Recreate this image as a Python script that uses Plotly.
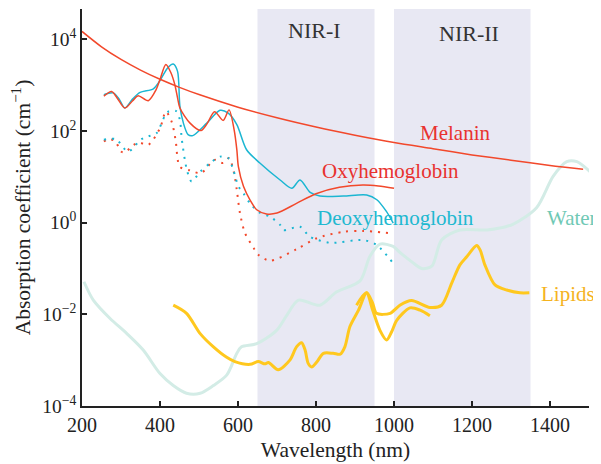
import plotly.graph_objects as go

# ---- data ----
mel_wl = [200, 250, 300, 350, 400, 450, 500, 600, 700, 800, 900, 1000, 1100, 1200, 1300, 1400, 1485]
mel_mu = [14800, 6840, 3630, 2130, 1340, 893, 621, 330, 194, 122, 81, 56, 41, 30, 23, 17.6, 14.6]

oxy_wl = [256, 276, 290, 310, 330, 344, 370, 390, 400, 415, 428, 438, 445, 451, 477, 505, 520, 540,
          562, 577, 590, 597, 601, 614, 631, 648, 673, 700, 750, 800, 860, 920, 960, 1000]
oxy_mu = [575, 724, 525, 316, 457, 589, 457, 794, 1318, 2818, 1862, 1023, 525, 316, 148, 102, 141, 263,
          170, 288, 107, 39, 16.6, 6.2, 3.1, 1.91, 1.55, 1.62, 2.63, 4.27, 5.89, 6.61, 6.31, 5.62]

deoxy_wl = [256, 280, 295, 310, 330, 349, 383, 400, 420, 434, 445, 451, 460, 472, 484, 520, 554, 575,
            597, 622, 656, 708, 738, 759, 785, 810, 870, 930, 956, 980, 998]
deoxy_mu = [617, 676, 501, 316, 501, 692, 832, 1259, 2399, 2884, 1995, 347, 148, 83, 79, 148, 282, 245,
            138, 38.9, 20, 8.5, 5.6, 8.5, 4.57, 3.8, 3.8, 4.0, 3.16, 1.78, 0.98]

oxy_d_wl = [256, 270, 285, 300, 310, 330, 345, 370, 400, 415, 430, 440, 451, 477, 505, 540, 562, 577,
            590, 597, 605, 618, 640, 652, 682, 750, 802, 870, 920, 990]
oxy_d_mu = [58.9, 66, 60, 35.5, 33.9, 47.9, 56, 50, 115, 263, 158, 63, 16.6, 13.8, 12, 23.4, 20, 25.7,
            12, 5.1, 1.62, 0.59, 0.28, 0.2, 0.148, 0.263, 0.457, 0.63, 0.66, 0.59]

deoxy_d_wl = [256, 287, 318, 352, 370, 391, 412, 423, 442, 451, 456, 469, 481, 503, 529, 554, 575, 588,
              601, 614, 631, 657, 682, 708, 716, 759, 785, 836, 921, 956, 998]
deoxy_d_mu = [64.6, 66, 35.5, 66, 75.9, 89, 209, 269, 269, 174, 64.6, 14.1, 7.9, 12.9, 20, 27.5, 25.7, 14.1,
              6.2, 4.37, 2.63, 1.62, 1.35, 0.89, 0.69, 0.81, 0.49, 0.363, 0.417, 0.324, 0.129]

water_wl = [205, 229, 272, 315, 357, 400, 434, 468, 503, 537, 571, 597, 609, 648, 699, 725, 755, 810,
            853, 913, 938, 964, 998, 1015, 1045, 1071, 1097, 1122, 1169, 1238, 1306, 1366, 1408, 1443,
            1469, 1503]
water_mu = [0.0513, 0.0204, 0.0081, 0.0038, 0.00166, 0.00051, 0.00028, 0.00019, 0.00019, 0.00028,
            0.00047, 0.00141, 0.00195, 0.00229, 0.00447, 0.0095, 0.0204, 0.0158, 0.0309, 0.0537, 0.182,
            0.339, 0.302, 0.224, 0.141, 0.100, 0.112, 0.417, 0.692, 0.692, 0.933, 2.14, 10.2, 21.4, 21.4,
            12.9]

lip_wl = [434, 468, 503, 537, 570, 592, 631, 652, 669, 678, 703, 733, 750, 763, 772, 780, 789, 802, 819,
          844, 862, 874, 887, 909, 930, 945, 955, 990, 1015, 1045, 1092, 1122, 1148, 1169, 1187, 1212,
          1221, 1233, 1259, 1289, 1323, 1347]
lip_mu = [0.0158, 0.0105, 0.0038, 0.00195, 0.00117, 0.00093, 0.00081, 0.00093, 0.00083, 0.00089,
          0.00062, 0.0010, 0.00195, 0.0024, 0.00166, 0.00085, 0.00071, 0.00091, 0.00141, 0.00141,
          0.00135, 0.00195, 0.0054, 0.0123, 0.0295, 0.0178, 0.0105, 0.0105, 0.0158, 0.020, 0.0141,
          0.0158, 0.048, 0.120, 0.182, 0.316, 0.251, 0.120, 0.0437, 0.0339, 0.0295, 0.0295]

lip2_wl = [904, 918, 930, 945, 964, 981, 994, 1007, 1041, 1067, 1092]
lip2_mu = [0.0158, 0.024, 0.0295, 0.0126, 0.00447, 0.00275, 0.00417, 0.0074, 0.0138, 0.0123, 0.0093]

nir_bands = [(650, 950, "NIR-I", 797, 4.2), (1000, 1350, "NIR-II", 1192, 4.12)]

RED = "#f2482b"
CYAN = "#1bb6d2"
WATER = "#d3ece6"
LIPID = "#ffc81e"
FONT = "Liberation Serif"

fig = go.Figure()

def add(x, y, color, width, dash="solid", smooth=0.8):
    fig.add_trace(go.Scatter(x=x, y=y, mode="lines",
                             line=dict(color=color, width=width, dash=dash, shape="spline", smoothing=smooth),
                             showlegend=False, hoverinfo="skip"))

add(water_wl, water_mu, WATER, 3)
add(lip_wl, lip_mu, LIPID, 3)
add(lip2_wl, lip2_mu, LIPID, 3)
add(oxy_d_wl, oxy_d_mu, RED, 2, dash="2px,6px")
add(deoxy_d_wl, deoxy_d_mu, CYAN, 2, dash="2px,6px")
add(deoxy_wl, deoxy_mu, CYAN, 1.5)
add(oxy_wl, oxy_mu, RED, 1.5)
add(mel_wl, mel_mu, RED, 1.5)

shapes = []
annotations = []
for x0, x1, name, tx, ty in nir_bands:
    shapes.append(dict(type="rect", xref="x", yref="paper", x0=x0, x1=x1, y0=0, y1=1,
                       fillcolor="#e8e8f3", line=dict(width=0), layer="below"))
    annotations.append(dict(x=tx, y=ty, xref="x", yref="y", text=name, showarrow=False,
                            font=dict(family=FONT, size=22, color="#333333")))

labels = [("Melanin", 1156, 1.96, "#e8322f"),
          ("Oxyhemoglobin", 990, 1.13, "#e8322f"),
          ("Deoxyhemoglobin", 1005, 0.10, "#20b8d0"),
          ("Water", 1456, 0.10, "#70c9b5"),
          ("Lipids", 1446, -1.56, "#f5b31e")]
for text, x, y, c in labels:
    annotations.append(dict(x=x, y=y, xref="x", yref="y", text=text, showarrow=False,
                            font=dict(family=FONT, size=21, color=c)))

# the page body adds an 8px offset, so the figure is drawn 8px smaller
fig.update_layout(
    width=593, height=456,
    margin=dict(l=74, r=12, t=1, b=58, autoexpand=False),
    paper_bgcolor="white", plot_bgcolor="white",
    shapes=shapes, annotations=annotations,
    font=dict(family=FONT, size=20, color="#222222"),
    xaxis=dict(range=[200, 1500], tickvals=[200, 400, 600, 800, 1000, 1200, 1400],
               ticks="inside", ticklen=5, tickwidth=1.5, tickcolor="#222", automargin=False,
               showline=True, linecolor="#222", linewidth=1.5, showgrid=False, zeroline=False,
               title=dict(text="Wavelength (nm)", font=dict(size=21.5), standoff=7),
               tickfont=dict(size=20)),
    yaxis=dict(type="log", range=[-4, 4.66], tickvals=[1e-4, 1e-2, 1, 1e2, 1e4],
               ticktext=["10<sup>−4</sup>", "10<sup>−2</sup>", "10<sup>0</sup>", "10<sup>2</sup>", "10<sup>4</sup>"],
               ticks="inside", ticklen=5, tickwidth=1.5, tickcolor="#222", automargin=False,
               showline=True, linecolor="#222", linewidth=1.5, showgrid=False, zeroline=False,
               title=dict(text="Absorption coefficient (cm<sup>−1</sup>)", font=dict(size=21.5), standoff=12),
               tickfont=dict(size=19.5)),
)

fig.write_html("out.html")
